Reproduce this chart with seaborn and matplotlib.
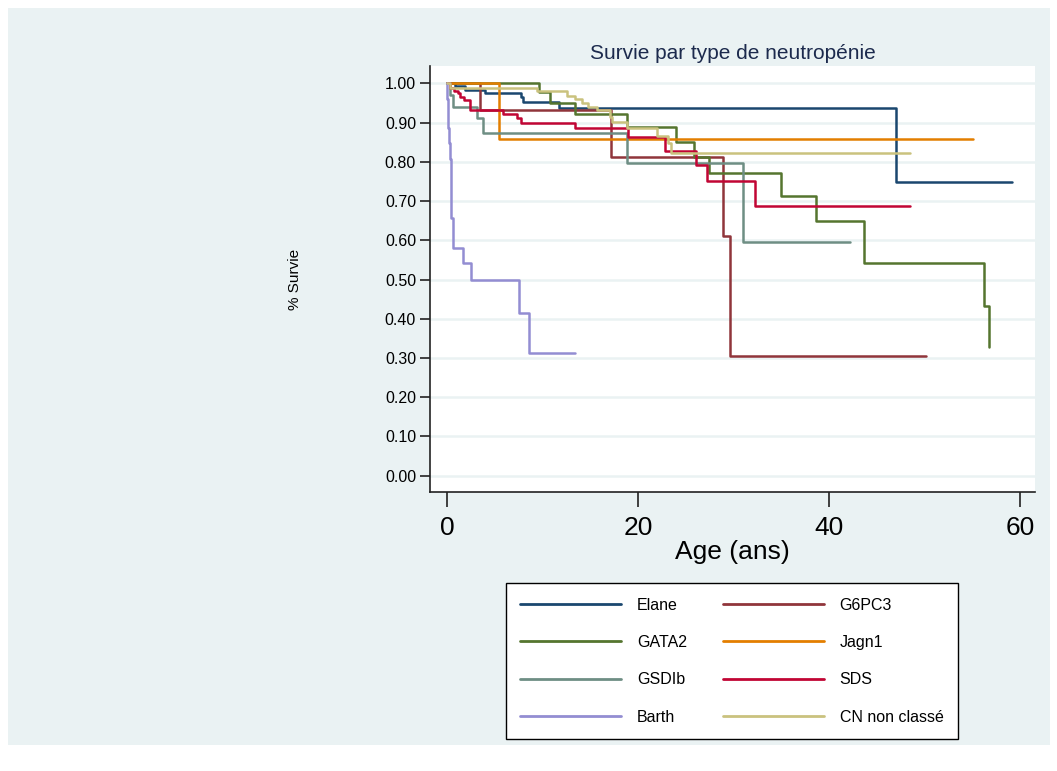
import numpy as np
import pandas as pd
import matplotlib.pyplot as plt
import seaborn as sns
from matplotlib.patches import Rectangle

# Kaplan-Meier steps (age in years, survival)
elane_t = [0, 0.8, 1.9, 4.0, 7.7, 8.0, 11.7, 47.0, 59.2]
elane_s = [1.0, 0.993, 0.983, 0.975, 0.965, 0.953, 0.936, 0.749, 0.749]
g6pc3_t = [0, 3.5, 17.2, 28.9, 29.6, 50.2]
g6pc3_s = [1.0, 0.932, 0.813, 0.612, 0.306, 0.306]
gata2_t = [0, 9.6, 10.8, 13.4, 18.8, 24.0, 25.9, 27.4, 35.0, 38.6, 43.7, 56.2, 56.8]
gata2_s = [1.0, 0.979, 0.949, 0.923, 0.889, 0.851, 0.813, 0.771, 0.714, 0.650, 0.541, 0.432, 0.327]
jagn1_t = [0, 5.4, 55.1]
jagn1_s = [1.0, 0.858, 0.858]
gsdib_t = [0, 0.3, 0.6, 3.1, 3.8, 18.8, 31.0, 42.2]
gsdib_s = [1.0, 0.97, 0.94, 0.911, 0.873, 0.796, 0.595, 0.595]
sds_t = [0, 0.3, 0.7, 1.1, 1.4, 1.8, 2.4, 5.9, 7.3, 7.7, 13.4, 19.0, 22.8, 26.1, 27.2, 32.3, 48.5]
sds_s = [1.0, 0.987, 0.98, 0.975, 0.965, 0.957, 0.932, 0.921, 0.911, 0.900, 0.887, 0.862, 0.828, 0.792, 0.751, 0.687, 0.687]
barth_t = [0, 0.05, 0.1, 0.15, 0.2, 0.3, 0.39, 0.6, 0.65, 1.7, 2.5, 7.5, 8.6, 13.4]
barth_s = [1.0, 0.96, 0.92, 0.885, 0.848, 0.808, 0.656, 0.618, 0.580, 0.541, 0.499, 0.415, 0.312, 0.312]
cn_t = [0, 0.3, 9.4, 12.6, 13.4, 14.1, 14.8, 15.7, 17.1, 17.3, 18.8, 22.0, 23.1, 23.5, 48.5]
cn_s = [1.0, 0.989, 0.980, 0.968, 0.960, 0.949, 0.939, 0.932, 0.915, 0.902, 0.885, 0.866, 0.847, 0.822, 0.822]

groups = ['Elane', 'G6PC3', 'GATA2', 'Jagn1', 'GSDIb', 'SDS', 'Barth', 'CN non classé']
times = [elane_t, g6pc3_t, gata2_t, jagn1_t, gsdib_t, sds_t, barth_t, cn_t]
surv = [elane_s, g6pc3_s, gata2_s, jagn1_s, gsdib_s, sds_s, barth_s, cn_s]
colors = ['#1a476f', '#90353b', '#55752f', '#e37e00', '#6e8e84', '#c10534', '#938dd2', '#cac27e']
yticks = np.arange(0, 1.01, 0.1)
xticks = [0, 20, 40, 60]

rows = []
for g, t, s in zip(groups, times, surv):
    for a, b in zip(t, s):
        rows.append((g, a, b))
df = pd.DataFrame(rows, columns=['groupe', 'age', 'survie'])

sns.set_style("white")
plt.rcParams['font.family'] = ['Liberation Sans', 'DejaVu Sans']

bg = '#eaf2f3'
fig = plt.figure(figsize=(10.57, 7.71), dpi=100, facecolor='white')
fig.patches.append(Rectangle((8/1057, 26/771), 1042/1057, 737/771,
                             transform=fig.transFigure, facecolor=bg,
                             edgecolor='none', zorder=-10))
ax = fig.add_axes([430/1057, 1-492/771, 605/1057, 426/771])
ax.set_facecolor('white')

sns.lineplot(data=df, x='age', y='survie', hue='groupe', hue_order=groups,
             palette=colors, drawstyle='steps-post', estimator=None,
             linewidth=1.8, ax=ax, legend=False)

ax.set_xlim(-1.78, 61.57)
ax.set_ylim(-0.0415, 1.0441)
ax.set_yticks(yticks)
ax.set_yticklabels([f'{v:.2f}' for v in yticks], fontsize=11.5, color='black')
ax.set_xticks(xticks)
ax.set_xticklabels([str(v) for v in xticks], fontsize=19, color='black')
for y in yticks:
    ax.axhline(y, color=bg, lw=1.8, zorder=0)
ax.grid(False)
for side in ['top', 'right']:
    ax.spines[side].set_visible(False)
for side in ['left', 'bottom']:
    ax.spines[side].set_color('#222222')
    ax.spines[side].set_linewidth(1.2)
ax.tick_params(axis='y', direction='out', length=7, width=1.2, color='#222222', pad=3, left=True)
ax.tick_params(axis='x', direction='out', length=11, width=1.2, color='#222222', pad=6, bottom=True)
ax.set_xlabel('Age (ans)', fontsize=19, labelpad=0, color='black')
ax.set_ylabel('')
ax.set_title('Survie par type de neutropénie', fontsize=15, color='#1c2a4d', pad=5)
fig.text(295/1057, 1-279/771, '% Survie', rotation=90, ha='center', va='center',
         fontsize=11, color='black')

# legend filled row by row like the original
order = [0, 2, 4, 6, 1, 3, 5, 7]
handles = [plt.Line2D([], [], color=colors[i], lw=2) for i in order]
labels = [groups[i] for i in order]
leg = fig.legend(handles, labels, ncols=2, loc='lower left',
                 bbox_to_anchor=(506/1057, 32/771, 452/1057, 156/771),
                 mode='expand', fontsize=11.5, handlelength=6.3, handletextpad=1.0,
                 labelspacing=1.4, borderpad=0.9, frameon=True, fancybox=False,
                 framealpha=1, facecolor='white', borderaxespad=0)
leg.get_frame().set_edgecolor('black')
leg.get_frame().set_linewidth(1.0)
for txt in leg.get_texts():
    txt.set_color('black')

fig.savefig('out.png', dpi=100, facecolor=fig.get_facecolor())
